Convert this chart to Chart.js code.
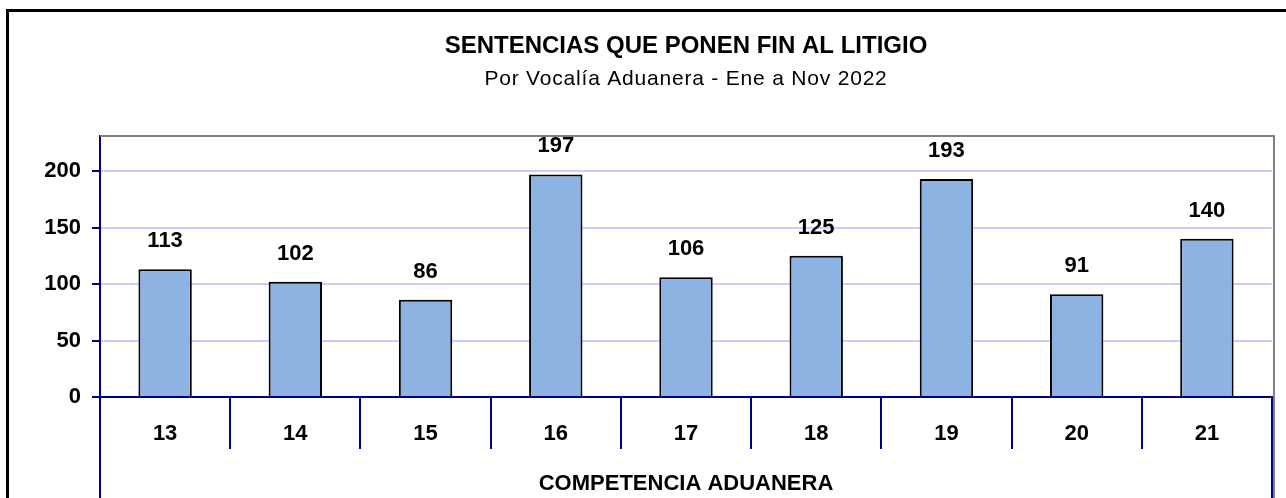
<!DOCTYPE html>
<html lang="es">
<head>
    <meta charset="UTF-8">
    <title>Sentencias que ponen fin al litigio</title>
    <script src="https://cdn.jsdelivr.net/npm/chart.js@4.4.1/dist/chart.umd.min.js"></script>
    <style>
        body { margin: 0; background: #fff; }
        #wrap { width: 1286px; height: 498px; }
    </style>
</head>
<body>
<div id="wrap">
    <canvas id="myChart" width="1286" height="498"></canvas>
</div>
<script>
    var vocalias = ['13', '14', '15', '16', '17', '18', '19', '20', '21'];
    var sentencias = [113, 102, 86, 197, 106, 125, 193, 91, 140];
    var yTicks = [0, 50, 100, 150, 200];

    var titulo = 'SENTENCIAS QUE PONEN FIN AL LITIGIO';
    var subtitulo = 'Por Vocalía Aduanera - Ene a Nov 2022';
    var tituloX = 'COMPETENCIA ADUANERA';

    var navy = '#000080';
    var font = "'Liberation Sans', Arial, sans-serif";

    // titles, outer frame, value labels and the extra axis lines
    var decor = {
        id: 'decor',
        afterDraw: function (chart) {
            var ctx = chart.ctx;
            var a = chart.chartArea;
            var cx = (a.left + a.right) / 2;
            ctx.save();
            ctx.strokeStyle = '#000';
            ctx.lineWidth = 3;
            ctx.strokeRect(7.5, 10.5, 1300, 520);

            ctx.fillStyle = '#000';
            ctx.textAlign = 'center';
            ctx.textBaseline = 'middle';
            ctx.font = 'bold 24px ' + font;
            ctx.fillText(titulo, cx, 46);
            ctx.font = '21px ' + font;
            ctx.letterSpacing = '0.8px';
            ctx.fillText(subtitulo, cx, 79);
            ctx.letterSpacing = '0px';
            ctx.font = 'bold 22px ' + font;
            ctx.fillText(tituloX, cx, 484);

            // plot top/right border
            ctx.strokeStyle = '#808080';
            ctx.lineWidth = 2;
            ctx.beginPath();
            ctx.moveTo(a.left, a.top);
            ctx.lineTo(a.right + 2, a.top);
            ctx.lineTo(a.right + 2, 498);
            ctx.stroke();

            // axis lines running down through the category band
            ctx.strokeStyle = navy;
            ctx.beginPath();
            ctx.moveTo(a.left, a.bottom);
            ctx.lineTo(a.left, 498);
            ctx.moveTo(a.right, a.bottom);
            ctx.lineTo(a.right, 498);
            ctx.stroke();

            ctx.font = 'bold 22px ' + font;
            chart.getDatasetMeta(0).data.forEach(function (bar, i) {
                ctx.fillText(sentencias[i], bar.x, bar.y - 28);
            });
            ctx.restore();
        }
    };

    var ctx = document.querySelector('#myChart').getContext('2d');
    new Chart(ctx, {
        type: 'bar',
        data: {
            labels: vocalias,
            datasets: [{
                label: 'Sentencias',
                data: sentencias,
                backgroundColor: '#8DB3E2',
                borderColor: '#000',
                borderWidth: 2,
                barPercentage: 0.41,
                categoryPercentage: 1
            }]
        },
        options: {
            responsive: false,
            animation: false,
            layout: { padding: { left: 0, top: 136, right: 14, bottom: 0 } },
            plugins: { legend: { display: false }, tooltip: { enabled: false } },
            scales: {
                x: {
                    offset: true,
                    afterFit: function (s) { s.height = 101; },
                    grid: {
                        offset: true,
                        drawOnChartArea: false,
                        drawTicks: true,
                        tickLength: 52,
                        color: navy,
                        lineWidth: 2
                    },
                    border: { color: navy, width: 2 },
                    ticks: {
                        color: '#000',
                        padding: -28,
                        font: { family: font, size: 22, weight: 'bold' }
                    }
                },
                y: {
                    min: 0,
                    max: 231,
                    afterFit: function (s) { s.width = 100; },
                    afterBuildTicks: function (s) {
                        s.ticks = yTicks.map(function (v) { return { value: v }; });
                    },
                    grid: {
                        color: '#CCCCFF',
                        lineWidth: 2,
                        tickColor: navy,
                        tickLength: 8
                    },
                    border: { color: navy, width: 2 },
                    ticks: {
                        color: '#000',
                        padding: 11,
                        font: { family: font, size: 22, weight: 'bold' }
                    }
                }
            }
        },
        plugins: [decor]
    });
</script>
</body>
</html>
